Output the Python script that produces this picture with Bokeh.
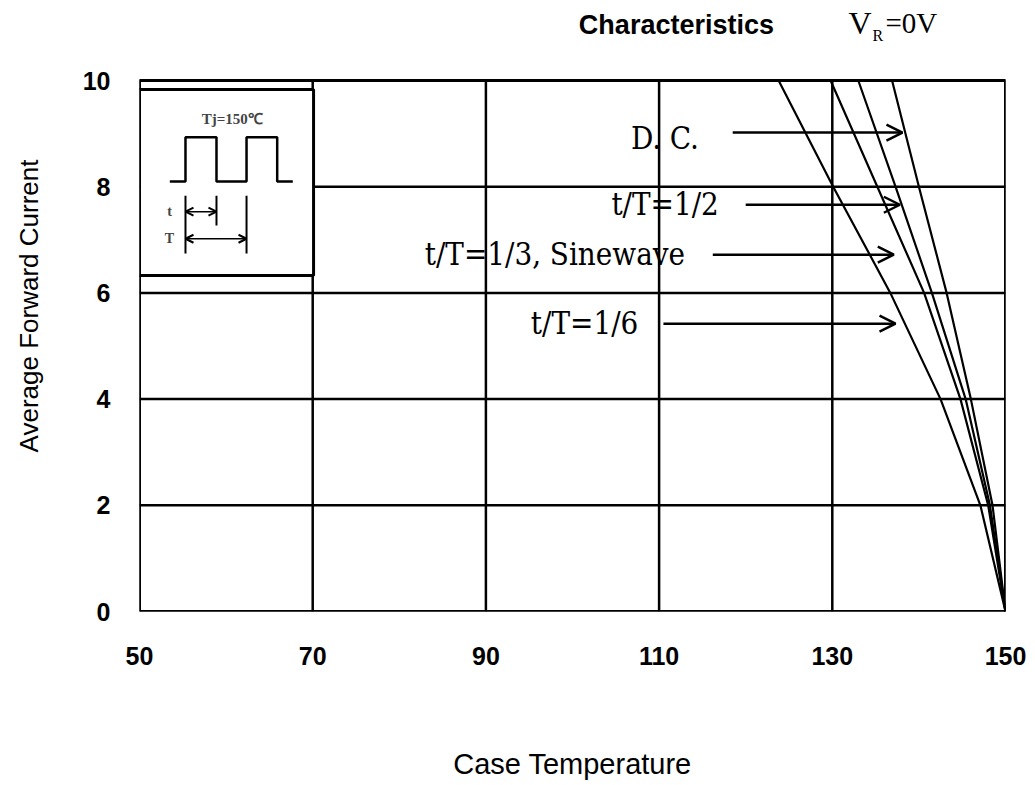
import math
from bokeh.plotting import figure
from bokeh.models import Label, Arrow, OpenHead, FixedTicker
from bokeh.embed import file_html
from bokeh.resources import INLINE

# ---- data ----
current = [10, 8, 6, 4, 2, 0]
temp_dc = [136.9, 140.0, 143.2, 146.0, 148.5, 150.0]
temp_half = [133.0, 137.3, 141.5, 145.4, 148.2, 150.0]
temp_third_sine = [129.8, 135.2, 140.6, 144.8, 148.0, 150.0]
temp_sixth = [123.8, 130.1, 136.7, 142.5, 147.1, 150.0]

x_ticks = [50, 70, 90, 110, 130, 150]
y_ticks = [0, 2, 4, 6, 8, 10]

curve_labels = ["D. C.", "t/T=1/2", "t/T=1/3, Sinewave", "t/T=1/6"]
label_right_x = [114.6, 116.9, 113.0, 107.6]
label_y = [8.91, 7.68, 6.74, 5.44]
arrow_x_start = [118.5, 120.0, 116.2, 110.5]
arrow_x_end = [138.1, 137.8, 137.1, 137.3]
arrow_y = [9.02, 7.66, 6.72, 5.42]

# inset (waveform sketch) geometry, in data units
inset_box = dict(left=50.0, right=70.1, bottom=6.33, top=9.83)
wave_x = [53.5, 55.31, 55.31, 58.89, 58.89, 62.36, 62.36, 65.9, 65.9, 67.7]
wave_y = [8.10, 8.10, 8.93, 8.93, 8.10, 8.10, 8.93, 8.93, 8.10, 8.10]
marker_x = [55.31, 58.89, 62.36]
marker_top = [7.83, 7.83, 7.83]
marker_bottom = [6.74, 7.27, 6.74]

SANS = "Liberation Sans"
SERIF_LBL = "'DejaVu Serif Condensed', 'Liberation Serif', serif"

x_lo, x_hi = x_ticks[0], x_ticks[-1]
y_lo, y_hi = y_ticks[0], y_ticks[-1]
# view extends above the data box so the heading line sits inside the frame
y_view_top = y_hi + 80 / 53.1

p = figure(width=1035, height=785, x_range=(x_lo, x_hi), y_range=(y_lo, y_view_top),
           output_backend="svg", toolbar_location=None,
           min_border_left=139, min_border_right=30,
           min_border_top=0, min_border_bottom=174)

p.background_fill_color = "white"
p.border_fill_color = "white"
p.outline_line_color = None
p.grid.visible = False

for ax, ticks, standoff in ((p.xaxis, x_ticks, 29), (p.yaxis, y_ticks, 23)):
    ax.ticker = FixedTicker(ticks=ticks)
    ax.axis_line_color = None
    ax.major_tick_line_color = None
    ax.minor_tick_line_color = None
    ax.major_label_text_font = SANS
    ax.major_label_text_font_style = "bold"
    ax.major_label_text_font_size = "25px"
    ax.major_label_text_color = "black"
    ax.major_label_standoff = standoff
    ax.axis_label_text_font = SANS
    ax.axis_label_text_font_style = "normal"
    ax.axis_label_text_color = "black"

p.xaxis.axis_label = "Case Temperature"
p.xaxis.axis_label_text_font_size = "29px"
p.xaxis.axis_label_standoff = 80
p.yaxis.axis_label = "Average Forward Current"
p.yaxis.axis_label_text_font_size = "26px"
p.yaxis.axis_label_standoff = 36

# grid lines and data box
p.segment(x0=x_ticks, y0=[y_lo] * len(x_ticks), x1=x_ticks, y1=[y_hi] * len(x_ticks),
          line_color="black", line_width=2.5)
p.segment(x0=[x_lo] * len(y_ticks), y0=y_ticks, x1=[x_hi] * len(y_ticks), y1=y_ticks,
          line_color="black", line_width=2.5)
p.quad(left=[x_lo], right=[x_hi], bottom=[y_lo], top=[y_hi],
       fill_color=None, line_color="black", line_width=3)

# curves
for xs in (temp_dc, temp_half, temp_third_sine, temp_sixth):
    p.line(xs, current, line_color="black", line_width=2.2)

# curve labels and arrows
for txt, lx, ly in zip(curve_labels, label_right_x, label_y):
    p.add_layout(Label(x=lx, y=ly, text=txt, text_align="right",
                       text_baseline="middle", text_font=SERIF_LBL,
                       text_font_size="31px", text_color="black"))
for xs, xe, ay in zip(arrow_x_start, arrow_x_end, arrow_y):
    p.add_layout(Arrow(x_start=xs, y_start=ay, x_end=xe, y_end=ay,
                       line_color="black", line_width=2.5,
                       end=OpenHead(size=16, line_width=2.5, line_color="black")))

# inset box
p.quad(left=[inset_box["left"]], right=[inset_box["right"]],
       bottom=[inset_box["bottom"]], top=[inset_box["top"]],
       fill_color="white", line_color="black", line_width=3)
p.line(wave_x, wave_y, line_color="black", line_width=2.5)
p.segment(x0=marker_x, y0=marker_top, x1=marker_x, y1=marker_bottom,
          line_color="black", line_width=2)
for xe, ay in ((marker_x[1], 7.53), (marker_x[2], 7.02)):
    p.add_layout(Arrow(x_start=marker_x[0], y_start=ay, x_end=xe, y_end=ay,
                       line_color="black", line_width=1.5,
                       start=OpenHead(size=8, line_width=2, line_color="black"),
                       end=OpenHead(size=8, line_width=2, line_color="black")))
for txt, ty in (("t", 7.53), ("T", 7.02)):
    p.add_layout(Label(x=53.46, y=ty, text=txt, text_align="center",
                       text_baseline="middle", text_font="Liberation Serif",
                       text_font_style="bold", text_font_size="14px"))
p.add_layout(Label(x=60.7, y=9.28, text="Tj=150\u2103", text_align="center",
                   text_baseline="middle", text_font="Liberation Serif",
                   text_font_style="bold", text_font_size="15px"))

# heading line (inside the view, above the data box)
p.add_layout(Label(x=112.0, y=11.036, text="Characteristics", text_align="center",
                   text_baseline="middle", text_font=SANS, text_font_style="bold",
                   text_font_size="27px", text_color="black"))
p.add_layout(Label(x=131.87, y=11.09, text="V", text_align="left",
                   text_baseline="middle", text_font="Liberation Serif",
                   text_font_size="32px", text_color="black"))
p.add_layout(Label(x=134.65, y=10.85, text="R", text_align="left",
                   text_baseline="middle", text_font="Liberation Serif",
                   text_font_size="16px", text_color="black"))
p.add_layout(Label(x=136.14, y=11.09, text="=0V", text_align="left",
                   text_baseline="middle", text_font="Liberation Serif",
                   text_font_size="29px", text_color="black"))

open("out.html", "w").write(file_html(p, INLINE))
